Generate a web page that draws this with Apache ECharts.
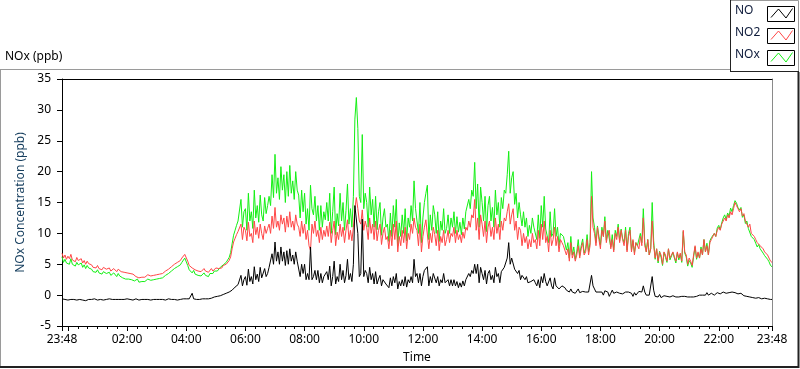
<!DOCTYPE html>
<html>
<head>
<meta charset="utf-8">
<script src="https://cdn.jsdelivr.net/npm/echarts@6/dist/echarts.min.js"></script>
<style>
html,body{margin:0;padding:0;background:#fff;}
#chart{width:800px;height:369px;}
</style>
</head>
<body>
<div id="chart"></div>
<script>
// ---- data (3-minute samples starting 23:48, one row per hour) ----
const START_MIN = -12;   // 23:48 expressed as minutes from midnight
const STEP_MIN = 3;

const noValues = [
 -0.6,-0.8,-0.7,-0.7,-0.8,-0.6,-0.7,-0.9,-0.7,-0.6,-0.8,-0.7,-0.7,-0.6,-0.8,-0.7,-0.9,-0.7,-0.7,-0.6,
 -0.7,-0.8,-0.6,-0.7,-0.8,-0.7,-0.7,-0.6,-0.8,-0.7,-0.7,-0.8,-0.6,-0.7,-0.7,-0.8,-0.7,-0.6,-0.7,-0.8,
 -0.7,-0.8,-0.7,-0.7,-0.6,-0.8,-0.7,-0.7,-0.8,-0.7,-0.6,-0.7,-0.8,-0.7,-0.7,-0.6,-0.7,-0.8,-0.7,-0.7,
 -0.8,-0.7,-0.7,-0.6,-0.7,-0.8,-0.7,-0.6,-0.7,-0.7,-0.8,-0.7,-0.6,-0.7,-0.7,-0.6,-0.7,-0.7,-0.8,-0.7,
 -0.7,-0.7,-0.6,-0.6,-0.6,-0.7,-0.6,-0.6,0.3,-0.6,-0.6,-0.7,-0.6,-0.7,-0.7,-0.6,-0.7,-0.6,-0.7,-0.6,
 -0.5,-0.5,-0.4,-0.3,-0.3,-0.2,-0.2,-0.1,0.0,0.1,0.2,0.3,0.4,0.5,0.7,0.8,1.1,1.3,1.5,1.7,
 1.8,3.2,1.5,2.5,3.0,1.6,4.2,2.2,3.0,1.8,4.6,2.5,3.4,2.2,4.5,2.8,2.5,4.3,3.0,3.5,
 4.5,4.5,6.7,5.0,8.6,5.5,7.0,5.0,7.8,5.5,7.0,4.8,7.2,5.0,7.5,5.5,6.5,5.0,7.0,5.5,
 5.2,3.0,5.0,3.5,5.0,2.5,3.5,2.5,7.8,2.5,3.0,4.0,2.5,4.0,2.0,3.5,2.0,3.0,2.7,3.8,
 2.5,4.7,1.5,3.0,5.5,1.8,3.0,2.2,5.0,2.5,4.0,2.0,3.2,5.8,2.5,3.5,2.2,5.0,14.5,14.2,
 10.0,3.0,3.5,12.3,3.0,4.0,3.5,2.0,4.5,2.5,3.5,1.8,3.8,1.8,2.6,3.2,1.5,2.5,2.8,1.8,
 2.0,1.2,2.8,1.5,3.0,2.0,3.5,1.0,2.2,1.5,2.5,1.5,3.0,1.3,2.5,2.0,3.0,2.0,5.8,3.0,
 3.5,2.0,3.5,1.5,3.0,4.0,4.3,4.6,1.5,3.0,2.0,3.5,3.2,2.0,3.0,1.5,2.5,2.0,3.5,2.0,
 1.8,2.5,1.5,2.5,1.5,2.5,1.5,2.2,1.2,2.0,1.3,2.3,1.5,2.5,2.8,3.5,3.0,4.0,3.5,5.0,
 3.5,5.0,2.0,4.5,3.5,2.5,4.0,1.8,3.5,4.0,2.5,3.2,2.0,4.5,3.0,3.5,2.0,3.8,3.5,4.5,
 4.5,6.0,8.5,5.0,6.0,6.0,4.2,4.5,3.5,4.0,2.5,3.2,3.5,2.5,3.0,2.0,2.3,2.2,2.5,2.5,
 2.0,1.5,2.5,1.2,3.0,2.0,3.5,2.2,1.5,1.5,2.8,1.5,1.0,2.8,1.5,1.5,1.0,1.0,1.5,1.5,
 1.2,0.8,1.0,0.5,1.0,0.5,0.8,0.3,0.5,1.0,0.4,0.5,0.6,0.3,0.5,0.8,0.5,0.5,3.2,1.5,
 1.0,0.5,0.2,0.5,0.6,0.5,0.0,0.7,0.4,0.5,-0.2,0.3,0.8,0.3,0.5,0.5,0.5,0.3,0.2,0.2,
 0.5,0.5,0.3,0.5,0.5,0.3,-0.2,0.4,0.0,0.0,0.6,0.5,0.5,1.5,0.5,0.0,0.0,0.0,0.0,3.0,
 0.8,-0.2,0.0,-0.3,0.1,-0.4,-0.2,-0.1,-0.4,-0.2,0.0,-0.3,-0.3,-0.1,-0.2,-0.3,-0.2,-0.3,-0.2,-0.2,
 -0.2,-0.2,-0.3,-0.3,-0.4,-0.3,-0.3,-0.3,-0.2,-0.2,-0.2,0.0,0.3,0.0,0.0,0.0,0.4,0.0,0.3,0.3,
 0.2,0.0,0.1,0.4,0.3,0.2,0.2,0.5,0.5,0.3,0.3,0.4,0.6,0.5,0.5,0.4,0.4,0.2,0.3,0.3,
 0.0,-0.1,-0.2,-0.2,0.0,-0.3,-0.3,-0.4,-0.4,-0.5,-0.5,-0.4,-0.4,-0.6,-0.5,-0.5,-0.6,-0.6,-0.6,-0.7,-0.7
];

const no2Values = [
 6.8,6.0,6.5,5.8,6.3,5.9,6.6,5.7,5.9,5.4,6.1,5.6,5.5,5.9,5.2,5.6,5.0,5.5,5.1,5.3,
 4.9,4.5,4.7,4.4,4.8,4.3,4.6,4.1,4.5,4.4,4.2,4.5,4.4,3.9,4.1,4.3,4.0,3.8,4.2,3.9,
 3.8,3.5,3.7,3.4,3.6,3.3,3.5,3.2,3.4,3.1,3.0,3.3,2.8,3.1,2.9,3.2,2.9,3.1,3.3,3.0,
 3.1,3.4,3.2,3.5,3.3,3.6,3.4,3.7,3.5,3.8,3.9,4.1,4.2,4.5,4.6,4.4,5.0,4.8,5.3,5.1,
 5.6,6.0,6.2,6.6,6.4,5.5,4.8,4.6,4.4,4.7,4.1,4.3,3.9,4.2,3.8,4.1,4.3,3.9,4.0,3.7,
 4.0,4.3,3.9,4.2,4.4,4.1,4.3,4.6,4.4,4.8,4.6,5.0,5.3,5.6,6.2,7.5,8.6,9.2,9.8,10.3,
 10.2,11.5,9.0,11.0,10.5,8.8,11.8,9.5,10.0,8.5,12.0,9.8,11.0,9.2,11.5,10.0,9.0,11.2,10.0,10.8,
 11.5,10.0,12.8,10.8,14.2,11.0,12.0,10.5,13.0,11.5,12.5,10.2,12.8,11.0,13.5,11.0,12.0,10.5,13.0,11.5,
 11.0,9.5,12.0,10.0,11.5,9.0,10.5,8.0,7.2,11.5,10.0,12.0,9.5,10.5,8.5,11.0,9.0,10.5,9.5,11.2,
 9.5,11.8,8.5,10.5,12.0,8.0,10.2,9.0,11.5,9.5,11.0,8.5,10.5,12.2,9.0,10.5,8.8,11.0,14.0,15.8,
 14.0,12.0,11.5,13.8,10.5,12.0,11.0,9.0,12.5,10.0,11.5,9.0,12.0,8.8,10.5,11.5,8.2,10.0,11.0,9.0,
 9.5,7.5,10.5,8.0,11.5,9.0,12.0,7.0,9.5,8.0,10.5,8.5,11.0,7.5,10.0,9.0,11.5,10.0,12.5,11.0,
 10.5,8.0,11.5,7.0,9.5,11.0,12.2,12.5,7.5,10.0,8.5,11.0,9.8,8.0,10.5,7.2,9.5,8.5,10.5,8.0,
 9.0,10.5,8.5,10.0,9.5,11.0,8.5,10.5,9.0,9.8,8.5,10.2,9.2,11.0,10.5,12.0,11.0,13.0,12.5,15.5,
 10.5,12.5,9.0,13.0,11.5,9.5,12.0,8.5,11.0,12.0,9.5,11.0,9.0,12.5,10.0,11.5,9.0,12.0,10.5,12.5,
 12.0,13.5,14.8,11.5,13.0,14.0,10.5,12.0,9.0,11.0,10.5,8.0,10.0,8.5,9.5,7.5,9.0,7.8,10.0,8.5,
 9.0,7.5,10.5,8.0,11.5,9.0,12.0,8.5,9.5,7.0,10.5,8.0,9.0,11.0,8.0,9.5,7.0,9.0,8.5,8.0,
 8.0,6.5,7.5,5.5,8.5,6.0,7.0,5.5,6.5,8.0,6.0,7.5,8.5,6.5,7.0,9.0,6.5,8.0,16.0,11.0,
 10.0,8.0,11.0,9.0,7.5,10.5,9.5,12.0,8.5,10.0,10.5,7.5,9.0,7.0,10.0,9.0,11.0,8.5,10.5,9.0,
 8.0,10.5,7.0,9.5,10.5,7.0,9.0,6.5,8.5,8.0,7.5,9.5,8.0,12.5,8.0,7.0,9.0,6.5,7.5,12.0,
 8.0,6.0,7.5,5.5,7.0,6.5,5.0,7.0,6.5,5.5,7.5,6.0,5.8,7.0,6.2,5.5,7.0,6.0,6.8,5.5,
 10.5,7.0,6.5,5.0,6.0,5.5,4.8,6.5,8.0,6.0,7.0,6.0,7.5,6.5,9.0,7.0,8.0,6.5,8.5,9.0,
 9.0,10.0,9.5,10.5,11.0,10.5,11.5,12.0,12.5,12.0,13.0,12.5,13.5,13.0,14.0,15.0,14.5,14.0,13.5,14.0,
 12.8,13.2,12.0,12.3,11.0,11.5,10.0,10.3,9.5,9.0,8.5,8.8,8.0,7.8,7.5,7.0,7.2,6.5,6.0,5.5,5.3
];

const noxValues = [
 6.2,5.3,5.8,5.2,5.5,5.0,5.9,5.0,5.1,4.7,5.3,4.9,4.7,5.2,4.5,4.9,4.3,4.8,4.4,4.6,
 4.2,3.8,4.0,3.7,4.1,3.6,3.9,3.4,3.8,3.6,3.5,3.8,3.7,3.2,3.4,3.6,3.3,3.0,3.5,3.1,
 3.1,2.8,3.0,2.6,2.9,2.6,2.7,2.5,2.7,2.3,2.2,2.6,2.1,2.4,2.2,2.5,2.2,2.4,2.6,2.3,
 2.4,2.7,2.5,2.8,2.6,2.9,2.7,3.0,2.8,3.1,3.2,3.4,3.5,3.8,3.9,3.7,4.3,4.1,4.6,4.4,
 4.9,5.3,5.6,6.0,5.8,4.8,4.1,3.8,3.6,4.0,3.4,3.6,3.2,3.4,3.1,3.4,3.6,3.2,3.3,3.0,
 3.5,3.8,3.5,3.9,4.1,3.9,4.1,4.5,4.4,4.9,4.8,5.3,5.7,6.1,6.9,8.3,9.7,10.5,11.3,12.0,
 12.0,15.5,11.0,13.5,14.0,10.5,16.5,12.0,13.5,10.8,17.0,12.5,14.5,11.8,16.2,13.0,12.0,15.8,13.2,14.5,
 16.0,14.5,19.5,15.8,22.8,16.5,19.0,15.5,20.8,17.0,19.5,15.0,20.0,16.0,21.0,16.5,18.5,15.5,20.0,17.0,
 16.2,12.5,17.0,13.5,16.5,11.5,14.0,10.5,17.8,14.0,13.0,16.0,12.0,14.5,10.5,14.5,11.0,13.5,12.2,15.0,
 12.0,16.5,10.0,13.5,17.5,9.8,13.2,11.2,16.5,12.0,15.0,10.5,13.7,18.0,11.5,14.0,11.0,16.0,28.5,32.0,
 27.0,16.0,15.0,26.0,14.0,16.5,15.0,11.0,17.5,13.0,15.5,11.0,16.0,10.6,13.5,15.0,9.7,12.5,14.0,11.0,
 11.5,8.7,13.3,9.5,14.5,11.0,15.5,8.0,11.7,9.5,13.0,10.0,14.0,8.8,12.5,11.0,14.5,12.0,18.5,14.0,
 14.0,10.0,15.0,8.5,12.5,15.0,16.5,17.8,9.0,13.0,10.5,14.5,13.0,10.0,13.5,8.7,12.0,10.5,14.0,10.0,
 10.8,13.0,10.0,12.5,11.0,13.5,10.0,12.7,10.2,11.8,9.8,12.5,10.7,13.5,13.3,15.5,14.0,17.0,16.0,21.5,
 14.0,18.0,11.0,17.5,15.0,12.0,16.0,10.3,14.5,16.0,12.0,14.2,11.0,17.0,13.0,15.0,11.0,15.8,14.0,17.0,
 16.5,19.5,23.3,16.5,19.0,20.0,14.7,16.5,12.5,15.0,13.0,11.2,13.5,11.0,12.5,9.5,11.3,10.0,12.5,11.0,
 11.0,9.0,13.0,9.2,14.5,11.0,16.0,10.7,11.0,8.5,13.5,9.5,10.0,14.0,9.5,11.0,8.0,10.0,10.0,9.5,
 9.2,7.3,8.5,6.0,9.5,6.5,7.8,5.8,7.0,9.0,6.4,8.0,9.1,6.8,7.5,9.8,7.0,8.5,20.0,12.5,
 11.0,8.5,11.2,9.5,8.1,11.0,9.5,12.7,8.9,10.5,10.3,7.8,9.8,7.3,10.5,9.5,11.5,8.8,10.7,9.2,
 8.5,11.0,7.3,10.0,11.0,7.3,8.8,6.9,8.5,8.0,8.1,10.0,8.5,14.0,8.5,7.0,9.0,6.5,7.5,15.0,
 8.8,5.8,7.5,5.2,7.1,6.1,4.8,6.9,6.1,5.3,7.5,5.7,5.5,6.9,6.0,5.2,6.8,5.7,6.6,5.3,
 10.3,6.8,6.2,4.7,5.6,5.2,4.5,6.2,7.8,5.8,6.8,6.0,7.8,6.5,9.0,7.0,8.4,6.5,8.8,9.3,
 9.2,10.0,9.5,10.9,11.3,10.6,11.7,12.5,13.0,12.3,13.3,12.8,14.1,13.5,14.5,15.3,14.9,14.2,13.8,14.2,
 12.6,13.0,11.6,12.0,10.8,11.0,9.5,9.8,9.0,8.4,7.8,8.2,7.5,7.2,6.8,6.4,6.5,5.8,5.4,4.8,4.6
];

// ---- axis ticks ----
const xTickMinutes = [-12, 120, 240, 360, 480, 600, 720, 840, 960, 1080, 1200, 1320, 1428];
const xTickLabels  = ['23:48','02:00','04:00','06:00','08:00','10:00','12:00','14:00','16:00','18:00','20:00','22:00','23:48'];
const xMajorTicks  = [-12, 0, 120, 240, 360, 480, 600, 720, 840, 960, 1080, 1200, 1320, 1428];
const X_MINOR_STEP = 20;
const yMin = -5, yMax = 35, yInterval = 5;

const xMinorTicks = [];
for (let m = X_MINOR_STEP; m < 1428; m += X_MINOR_STEP) xMinorTicks.push(m);

const toPairs = arr => arr.map((v, i) => [START_MIN + i * STEP_MIN, v]);

const FONT = 'Noto Sans';
const xMin = -12, xMax = 1428;

const chart = echarts.init(document.getElementById('chart'), null, {renderer: 'canvas'});

function legendItem(label, color, y0) {
  return [
    {type: 'text', left: 735, top: y0 - 1, style: {text: label, fill: '#0d1a3a', font: '12px "' + FONT + '"'}},
    {type: 'rect', shape: {x: 767.5, y: y0 + 0.5, width: 27, height: 15}, style: {fill: '#fff', stroke: '#000', lineWidth: 1}},
    {type: 'polyline', shape: {points: [[771, y0 + 11.5], [778.5, y0 + 3], [786, y0 + 12], [792.5, y0 + 2.5]]}, style: {stroke: color, lineWidth: 1, fill: null}}
  ];
}

const lineSeries = (name, values, color) => ({
  name, type: 'line', data: toPairs(values), showSymbol: false, symbol: 'none',
  lineStyle: {color, width: 1}, itemStyle: {color}
});

const option = {
  animation: false,
  backgroundColor: '#fff',
  textStyle: {fontFamily: FONT},
  grid: {left: 62, top: 79, width: 710, height: 251, containLabel: false},
  xAxis: [
    {
      type: 'value', min: xMin, max: xMax,
      name: 'Time', nameLocation: 'middle', nameGap: 26,
      nameTextStyle: {color: '#000', fontSize: 12, fontFamily: FONT},
      axisLine: {show: true, onZero: false, lineStyle: {color: '#000', width: 1}},
      axisTick: {show: true, inside: false, length: 5, lineStyle: {color: '#000'}, customValues: xMajorTicks},
      axisLabel: {show: true, color: '#000', fontSize: 12, fontFamily: FONT, margin: 8,
        customValues: xTickMinutes,
        formatter: v => { const k = xTickMinutes.indexOf(v); return k >= 0 ? xTickLabels[k] : ''; }},
      splitLine: {show: false}
    },
    {
      type: 'value', min: xMin, max: xMax, position: 'bottom',
      axisLine: {show: false, onZero: false},
      axisTick: {show: true, inside: false, length: 3, lineStyle: {color: '#000'}, customValues: xMinorTicks},
      axisLabel: {show: false},
      splitLine: {show: false}
    },
    {
      type: 'value', min: xMin, max: xMax, position: 'top',
      axisLine: {show: true, onZero: false, lineStyle: {color: '#000', width: 1}},
      axisTick: {show: false}, axisLabel: {show: false}, splitLine: {show: false}
    }
  ],
  yAxis: [
    {
      type: 'value', min: yMin, max: yMax, interval: yInterval,
      name: 'NOx Concentration (ppb)', nameLocation: 'middle', nameGap: 25,
      nameTextStyle: {color: '#173f5f', fontSize: 12, fontFamily: FONT},
      axisLine: {show: true, onZero: false, lineStyle: {color: '#000', width: 1}},
      axisTick: {show: true, inside: false, length: 5, lineStyle: {color: '#000'}},
      axisLabel: {color: '#000', fontSize: 12, fontFamily: FONT, margin: 11},
      splitLine: {show: false}
    },
    {
      type: 'value', min: yMin, max: yMax, interval: yInterval, position: 'right',
      axisLine: {show: true, onZero: false, lineStyle: {color: '#8a8a8a', width: 1}},
      axisTick: {show: false}, axisLabel: {show: false}, splitLine: {show: false}
    }
  ],
  series: [
    lineSeries('NOx', noxValues, '#14f014'),
    lineSeries('NO2', no2Values, '#ff4646'),
    lineSeries('NO', noValues, '#000')
  ],
  graphic: [
    // outer panel frame
    {type: 'line', shape: {x1: 0, y1: 69.5, x2: 730, y2: 69.5}, style: {stroke: '#9a9a9a', lineWidth: 1}},
    {type: 'line', shape: {x1: 0.5, y1: 69, x2: 0.5, y2: 367}, style: {stroke: '#9a9a9a', lineWidth: 1}},
    {type: 'line', shape: {x1: 798.5, y1: 72, x2: 798.5, y2: 368}, style: {stroke: '#222', lineWidth: 2}},
    {type: 'line', shape: {x1: 0, y1: 367, x2: 799, y2: 367}, style: {stroke: '#222', lineWidth: 2}},
    // legend box
    {type: 'rect', shape: {x: 730.5, y: 0.5, width: 68, height: 71}, style: {fill: '#fff', stroke: '#9a9a9a', lineWidth: 1}},
    {type: 'line', shape: {x1: 730.5, y1: 0, x2: 730.5, y2: 72}, style: {stroke: '#222', lineWidth: 1}},
    {type: 'line', shape: {x1: 730, y1: 71.5, x2: 799, y2: 71.5}, style: {stroke: '#222', lineWidth: 1}},
    ...legendItem('NO', '#000', 6),
    ...legendItem('NO2', '#ff4646', 28),
    ...legendItem('NOx', '#14f014', 50),
    // panel caption
    {type: 'text', left: 5, top: 51, style: {text: 'NOx (ppb)', fill: '#000', font: '12px "' + FONT + '"'}}
  ]
};

chart.setOption(option);
</script>
</body>
</html>
